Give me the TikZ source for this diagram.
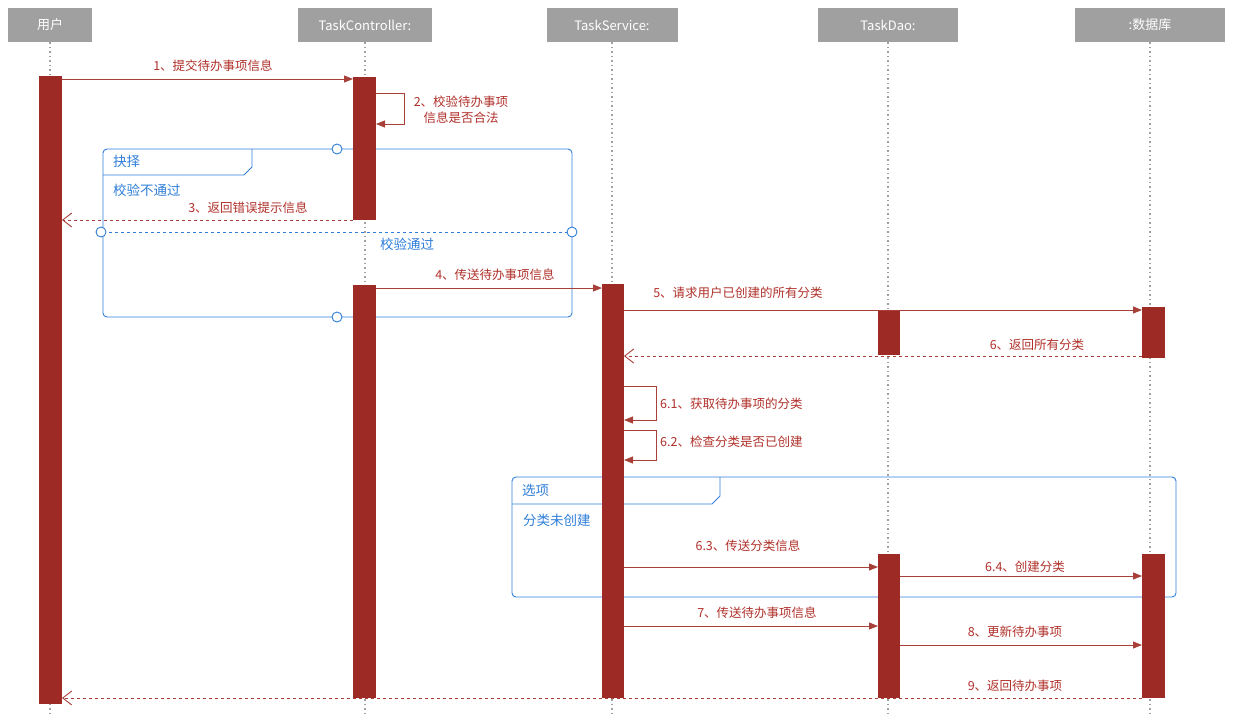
\documentclass[tikz,border=0pt]{standalone}
\usepackage{fontspec}
\setmainfont{Noto Sans CJK SC}
\usetikzlibrary{arrows.meta}
\definecolor{bar}{HTML}{9E2A25}
\definecolor{msg}{HTML}{A8403A}
\definecolor{txt}{HTML}{B0302A}
\definecolor{frm}{HTML}{2F7ED8}
\definecolor{hd}{HTML}{A0A0A0}
\begin{document}
\begin{tikzpicture}[x=1pt,y=-1pt,
 hdr/.style={fill=hd,text=white,font=\fontsize{13}{15}\selectfont,inner sep=0pt,anchor=center},
 life/.style={hd,line width=1.5pt,dash pattern=on 1.5pt off 3pt},
 act/.style={fill=bar,draw=none},
 m/.style={msg,line width=0.9pt,-{Triangle[length=9pt,width=7pt]}},
 r/.style={msg,line width=0.9pt,dashed,-{Straight Barb[length=9pt,width=14pt]}},
 lab/.style={text=txt,font=\fontsize{12.5}{16}\selectfont,inner sep=0pt},
 fr/.style={frm,line width=0.9pt,rounded corners=4pt},
 ft/.style={text=frm,font=\fontsize{13.5}{15}\selectfont,inner sep=0pt,anchor=west},
 circ/.style={circle,draw=frm,fill=white,line width=0.9pt,minimum size=10pt,inner sep=0pt}]
\useasboundingbox (0,0) rectangle (1238,716);
% lifelines
\foreach \n/\x in {u/50,c/365,s/612,d/888,b/1150}{
  \draw[life] (\x,42) -- (\x,716);
  \coordinate (\n) at (\x,0);
}
% headers
\node[hdr,minimum width=84pt,minimum height=34pt] (hu) at (50,25) {用户};
\node[hdr,minimum width=134pt,minimum height=34pt] (hc) at (365,25) {TaskController:};
\node[hdr,minimum width=131pt,minimum height=34pt] (hs) at (612,25) {TaskService:};
\node[hdr,minimum width=140pt,minimum height=34pt] (hd) at (888,25) {TaskDao:};
\node[hdr,minimum width=150pt,minimum height=34pt] (hb) at (1150,25) {:数据库};
% frames
\draw[fr] (103,149) rectangle (572,317);
\draw[frm,line width=0.9pt] (103,175) -- (244,175) -- (252,167) -- (252,149);
\node[ft] (f1) at (113,161) {抉择};
\node[ft] (f1a) at (113,190) {校验不通过};
\draw[frm,line width=0.9pt,dashed] (103,232) -- (572,232);
\node[ft] (f1b) at (380,244) {校验通过};
\node[circ] (c1) at (337,149) {};
\node[circ] (c2) at (101,232) {};
\node[circ] (c3) at (572,232) {};
\node[circ] (c4) at (337,317) {};
\draw[fr] (512,477) rectangle (1176,597);
\draw[frm,line width=0.9pt] (512,504) -- (712,504) -- (720,496) -- (720,477);
\node[ft] (f2) at (522,490) {选项};
\node[ft] (f2a) at (523,520) {分类未创建};
% activations
\fill[act] (39,76) rectangle (62,704);
\fill[act] (353,77) rectangle (376,220);
\fill[act] (353,285) rectangle (376,698);
\fill[act] (602,284) rectangle (624,698);
\fill[act] (878,310) rectangle (900,355);
\fill[act] (878,554) rectangle (900,698);
\fill[act] (1142,307) rectangle (1165,358);
\fill[act] (1142,554) rectangle (1165,698);
% coordinates
\coordinate (a1) at (62,79); \coordinate (b1) at (353,79);
\coordinate (a3) at (353,220); \coordinate (b3) at (62,220);
\coordinate (a4) at (376,288); \coordinate (b4) at (602,288);
\coordinate (a5) at (624,310); \coordinate (b5) at (1142,310);
\coordinate (a6) at (1142,356); \coordinate (b6) at (624,356);
\coordinate (a63) at (624,567); \coordinate (b63) at (878,567);
\coordinate (a64) at (900,576); \coordinate (b64) at (1142,576);
\coordinate (a7) at (624,626); \coordinate (b7) at (878,626);
\coordinate (a8) at (900,645); \coordinate (b8) at (1142,645);
\coordinate (a9) at (1142,698); \coordinate (b9) at (62,698);
\draw[m] (a1) -- (b1);
\draw[m] (376,93) -- (404,93) -- (404,124) -- (376,124);
\draw[r] (a3) -- (b3);
\draw[m] (a4) -- (b4);
\draw[m] (a5) -- (b5);
\draw[r] (a6) -- (b6);
\draw[m] (624,386) -- (656,386) -- (656,420) -- (624,420);
\draw[m] (624,430) -- (656,430) -- (656,460) -- (624,460);
\draw[m] (a63) -- (b63);
\draw[m] (a64) -- (b64);
\draw[m] (a7) -- (b7);
\draw[m] (a8) -- (b8);
\draw[r] (a9) -- (b9);
% labels
\node[lab] (l1) at (213,66) {1、提交待办事项信息};
\node[lab,align=center] (l2) at (461,110) {2、校验待办事项\\信息是否合法};
\node[lab] (l3) at (248,208) {3、返回错误提示信息};
\node[lab] (l4) at (495,275) {4、传送待办事项信息};
\node[lab] (l5) at (738,293) {5、请求用户已创建的所有分类};
\node[lab] (l6) at (1037,345) {6、返回所有分类};
\node[lab,anchor=west] (l61) at (660,404) {6.1、获取待办事项的分类};
\node[lab,anchor=west] (l62) at (660,442) {6.2、检查分类是否已创建};
\node[lab] (l63) at (748,546) {6.3、传送分类信息};
\node[lab] (l64) at (1025,567) {6.4、创建分类};
\node[lab] (l7) at (757,613) {7、传送待办事项信息};
\node[lab] (l8) at (1015,632) {8、更新待办事项};
\node[lab] (l9) at (1015,686) {9、返回待办事项};
\end{tikzpicture}
\end{document}
